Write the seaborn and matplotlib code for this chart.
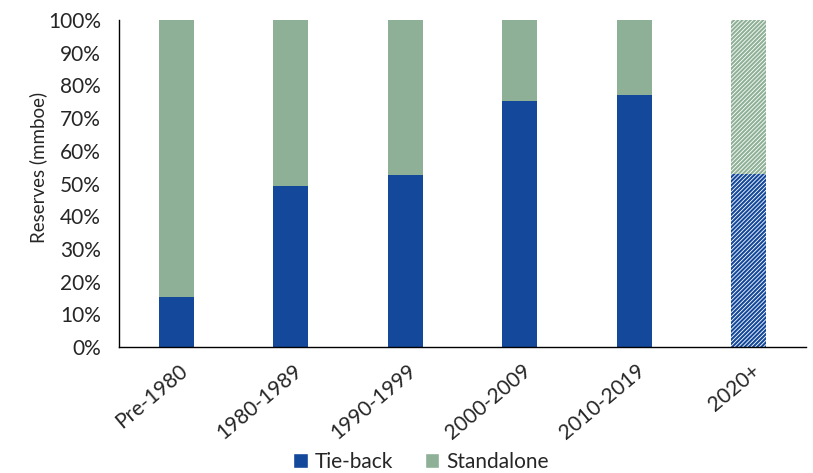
import matplotlib
matplotlib.use("Agg")
import matplotlib.pyplot as plt
import matplotlib.transforms as mtransforms
import seaborn as sns
import pandas as pd
from matplotlib.patches import Patch
from matplotlib.ticker import FuncFormatter, FixedLocator

periods = ["Pre-1980", "1980-1989", "1990-1999", "2000-2009", "2010-2019", "2020+"]
tieback = [15.3, 49.2, 52.7, 75.1, 77.1, 52.9]
total = [100, 100, 100, 100, 100, 100]
projected = ["2020+"]

blue = "#13489A"
green = "#8DB096"

sns.set_theme(style="white")
plt.rcParams["font.family"] = ["Lato", "DejaVu Sans"]
plt.rcParams["hatch.linewidth"] = 1.5

df = pd.DataFrame({"period": periods, "tieback": tieback, "total": total})

fig = plt.figure(figsize=(8.13, 4.73), dpi=100)
ax = fig.add_axes([119 / 813, 1 - 347 / 473, (806 - 119) / 813, (347 - 20) / 473])

# full-height standalone bar, tie-back share drawn on top of it
sns.barplot(data=df, x="period", y="total", color=green, width=0.31,
            saturation=1, ax=ax, linewidth=0)
sns.barplot(data=df, x="period", y="tieback", color=blue, width=0.31,
            saturation=1, ax=ax, linewidth=0)

n = len(periods)
for i, p in enumerate(ax.patches):
    cat = periods[i % n]
    if cat in projected:
        col = green if i < n else blue
        p.set_facecolor("white")
        p.set_edgecolor(col)
        p.set_hatch("////////")
        p.set_linewidth(0)

ax.set_ylim(0, 100)
ax.set_xlim(-0.5, n - 0.5)
ax.yaxis.set_major_locator(FixedLocator(range(0, 101, 10)))
ax.yaxis.set_major_formatter(FuncFormatter(lambda v, _: f"{v:.0f}%"))

ax.set_xticks(range(n))
ax.set_xticklabels(periods, rotation=40, ha="right", rotation_mode="anchor")
ax.set_xticks([k - 0.5 for k in range(n + 1)], minor=True)
ax.tick_params(axis="x", which="major", length=0, pad=10, labelsize=15)
ax.tick_params(axis="x", which="minor", length=7, width=1, color="black", direction="out")
ax.tick_params(axis="y", length=6, width=1, color="black", direction="out", labelsize=15, pad=7)
shift = mtransforms.ScaledTranslation(0.02, 0, fig.dpi_scale_trans)
for lbl in ax.get_xticklabels():
    lbl.set_transform(lbl.get_transform() + shift)

ax.set_xlabel("")
ax.set_ylabel("Reserves (mmboe)", fontsize=13.5)
ax.yaxis.set_label_coords(-0.105, 0.55)

sns.despine(ax=ax)
for s in ("left", "bottom"):
    ax.spines[s].set_color("black")
    ax.spines[s].set_linewidth(1)

handles = [Patch(facecolor=blue, label="Tie-back"), Patch(facecolor=green, label="Standalone")]
fig.legend(handles=handles, loc="center", bbox_to_anchor=(421 / 813, 1 - 462 / 473),
           ncol=2, frameon=False, fontsize=15, handlelength=0.7, handleheight=0.7,
           handletextpad=0.35, columnspacing=1.5, borderaxespad=0)

fig.savefig("out.png", dpi=100)
